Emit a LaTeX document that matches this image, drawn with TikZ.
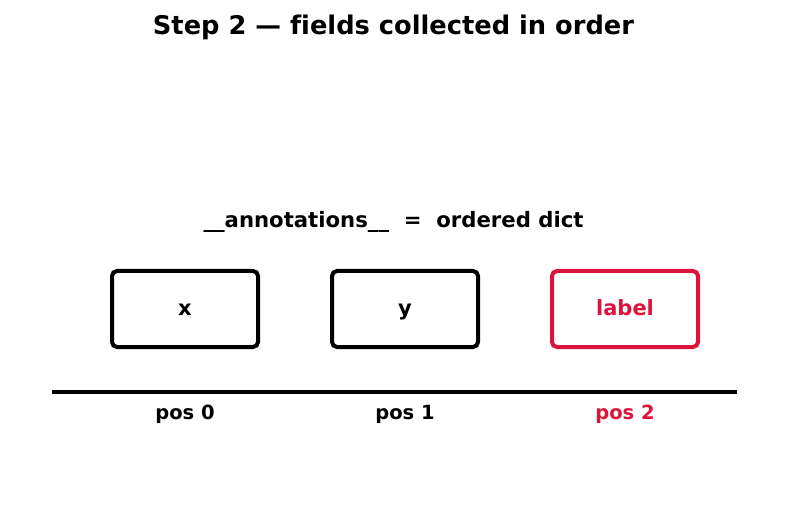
\documentclass[tikz,border=0pt]{standalone}
\usepackage{fontspec}
\setmainfont{DejaVu Sans}[Ligatures=NoCommon]
\usepackage{xcolor}
\usepackage{tikz}
\usetikzlibrary{positioning, calc}
\definecolor{crimson}{HTML}{DC143C}

\tikzset{
  field/.style={draw=black, line width=4pt, rounded corners=5pt, minimum width=146pt, minimum height=76pt, text height=17pt, text depth=4pt, font=\bfseries\fontsize{21}{25}\selectfont},
  poslabel/.style={font=\bfseries\fontsize{19.5}{23}\selectfont},
}

\begin{document}
\begin{tikzpicture}[x=1pt, y=1pt]
  \useasboundingbox (0,0) rectangle (787,512);
  \node[font=\bfseries\fontsize{25.7}{30}\selectfont] (title) at (393.5,484.5) {Step 2 — fields collected in order};
  \node[font=\bfseries\fontsize{21.2}{25}\selectfont] (dict) at (393.5,290.5) {\_\_annotations\_\_\ \ =\ \ ordered dict};

  \node[field] (fx) at (185,203) {x};
  \node[field, right=70pt of fx] (fy) {y};
  \node[field, right=70pt of fy, draw=crimson, text=crimson] (flabel) {label};

  \coordinate (axisL) at (52,120);
  \coordinate (axisR) at (737,120);
  \draw[line width=4.3pt] (axisL) -- (axisR);

  \node[poslabel] (p0) at (fx |- 0,97.5) {pos 0};
  \node[poslabel] (p1) at (fy |- 0,97.5) {pos 1};
  \node[poslabel, text=crimson] (p2) at (flabel |- 0,97.5) {pos 2};
\end{tikzpicture}
\end{document}
